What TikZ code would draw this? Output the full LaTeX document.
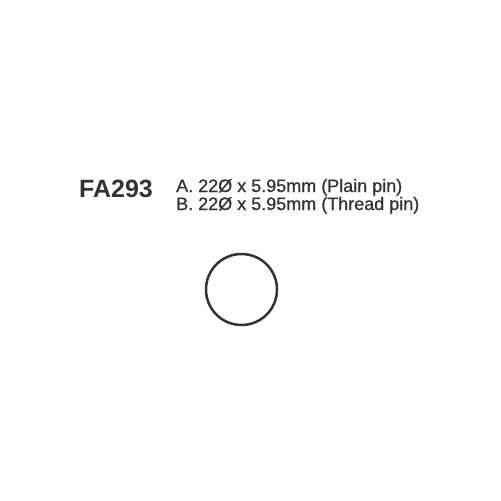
\documentclass[tikz,border=0pt]{standalone}
\usepackage{fontspec}
\setmainfont{Liberation Sans}
\newfontfamily\medfont{Liberation Sans}[FakeBold=0.8]
\definecolor{inkgray}{HTML}{333333}
\begin{document}
\begin{tikzpicture}[x=1pt, y=-1pt]
    % Cornice della pagina
    \useasboundingbox[fill=white] (0,0) rectangle (501,501);

    % Codice del prodotto
    \node[anchor=base west, inner sep=0pt, text=inkgray, font=\fontsize{25}{30}\selectfont\bfseries] (code) at (79,197) {FA293};

    % Descrizioni delle varianti
    \node[anchor=base west, inner sep=0pt, text=inkgray, font=\medfont\fontsize{18}{21}\selectfont] (var_a) at (176,192) {A. 22Ø x 5.95mm (Plain pin)};
    \node[anchor=base west, inner sep=0pt, text=inkgray, font=\medfont\fontsize{18}{21}\selectfont] (var_b) at (176,210) {B. 22Ø x 5.95mm (Thread pin)};

    % Sagoma della pastiglia
    \draw[inkgray, line width=2.5pt] (241.5,289.5) circle (35.5);
\end{tikzpicture}
\end{document}
